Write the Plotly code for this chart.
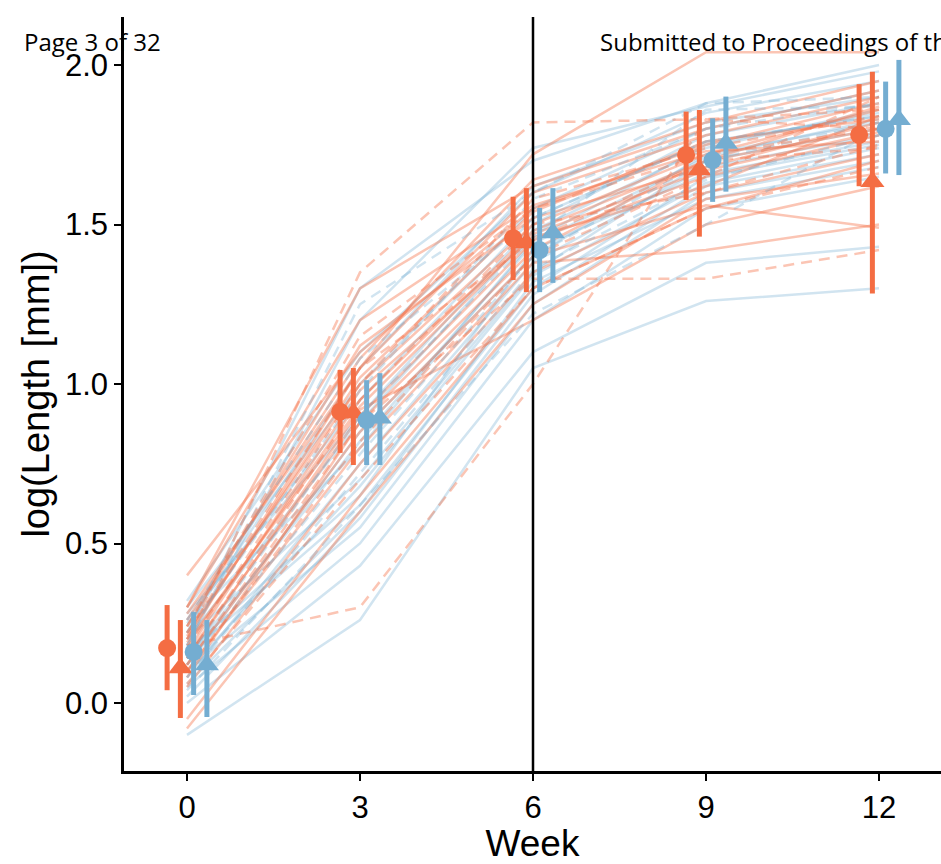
import plotly.graph_objects as go

weeks = [0, 3, 6, 9, 12]

# individual trajectories: values at weeks 0, 3, 6, 9, 12
orange_solid = [
    [0.40, 1.10, 1.55, 1.75, 1.88],
    [0.30, 1.30, 1.62, 1.80, 1.92],
    [0.28, 1.05, 1.72, 2.04, 2.04],
    [0.22, 1.00, 1.50, 1.72, 1.86],
    [0.18, 0.95, 1.48, 1.70, 1.80],
    [0.15, 0.90, 1.45, 1.65, 1.78],
    [0.12, 0.85, 1.40, 1.56, 1.49],
    [0.10, 0.80, 1.38, 1.42, 1.50],
    [0.20, 1.05, 1.60, 1.78, 1.90],
    [0.05, 0.75, 1.35, 1.60, 1.72],
    [-0.05, 0.65, 1.30, 1.55, 1.70],
    [0.24, 1.12, 1.52, 1.68, 1.82],
    [0.16, 0.98, 1.46, 1.62, 1.84],
    [0.30, 1.20, 1.56, 1.73, 1.76],
    [-0.08, 0.60, 1.25, 1.58, 1.66],
    [0.08, 0.88, 1.42, 1.70, 1.87],
    [0.26, 1.08, 1.64, 1.82, 1.95],
    [0.14, 0.92, 1.20, 1.50, 1.62],
    [0.21, 1.02, 1.54, 1.76, 1.83],
    [0.19, 0.93, 1.47, 1.67, 1.79],
]
orange_dashed = [
    [0.18, 0.30, 1.00, 1.83, 1.80],
    [0.12, 0.88, 1.33, 1.33, 1.42],
    [0.20, 1.35, 1.82, 1.83, 1.86],
    [0.22, 1.05, 1.45, 1.70, 1.74],
    [0.14, 0.95, 1.50, 1.60, 1.75],
    [0.24, 1.15, 1.55, 1.72, 1.80],
    [0.06, 0.70, 1.30, 1.55, 1.68],
    [0.10, 0.82, 1.40, 1.65, 1.90],
    [0.17, 1.00, 1.58, 1.74, 1.84],
]
blue_solid = [
    [-0.10, 0.26, 1.05, 1.26, 1.30],
    [0.00, 0.43, 1.10, 1.38, 1.43],
    [0.05, 0.50, 1.20, 1.55, 1.65],
    [0.10, 0.55, 1.25, 1.60, 1.70],
    [0.15, 0.62, 1.30, 1.65, 1.75],
    [0.20, 0.70, 1.35, 1.70, 1.80],
    [0.25, 0.80, 1.45, 1.75, 1.85],
    [0.28, 0.90, 1.50, 1.78, 1.88],
    [0.30, 1.00, 1.55, 1.80, 1.92],
    [0.32, 1.10, 1.60, 1.85, 1.95],
    [0.22, 1.30, 1.70, 1.88, 2.00],
    [0.18, 1.20, 1.74, 1.87, 1.98],
    [0.12, 0.85, 1.40, 1.72, 1.82],
    [0.08, 0.75, 1.38, 1.68, 1.78],
    [0.26, 0.95, 1.52, 1.76, 1.84],
    [0.02, 0.58, 1.28, 1.62, 1.72],
    [0.16, 0.65, 1.42, 1.66, 1.76],
    [0.24, 1.05, 1.62, 1.82, 1.90],
    [0.06, 0.60, 1.32, 1.58, 1.68],
    [0.20, 0.88, 1.48, 1.74, 1.86],
    [0.14, 0.82, 1.44, 1.71, 1.83],
    [0.10, 0.68, 1.34, 1.63, 1.74],
]
blue_dashed = [
    [0.18, 1.25, 1.60, 1.88, 1.90],
    [0.12, 0.78, 1.40, 1.70, 1.82],
    [0.22, 0.98, 1.58, 1.80, 1.88],
    [0.04, 0.62, 1.22, 1.50, 1.80],
    [0.26, 1.08, 1.52, 1.76, 1.84],
    [0.08, 0.72, 1.36, 1.64, 1.78],
    [0.14, 0.90, 1.46, 1.86, 1.87],
]

# group summaries (mean and interval) at each week
oc_mean = [0.172, 0.913, 1.457, 1.718, 1.781]
oc_lo = [0.040, 0.784, 1.326, 1.577, 1.620]
oc_hi = [0.307, 1.044, 1.587, 1.854, 1.940]

ot_mean = [0.110, 0.909, 1.442, 1.671, 1.634]
ot_lo = [-0.047, 0.746, 1.288, 1.462, 1.284]
ot_hi = [0.260, 1.050, 1.614, 1.859, 1.979]

bc_mean = [0.160, 0.887, 1.420, 1.702, 1.800]
bc_lo = [0.025, 0.746, 1.288, 1.571, 1.660]
bc_hi = [0.285, 1.012, 1.552, 1.833, 1.948]

bt_mean = [0.119, 0.893, 1.473, 1.754, 1.828]
bt_lo = [-0.044, 0.746, 1.317, 1.603, 1.655]
bt_hi = [0.260, 1.034, 1.614, 1.901, 2.016]

x_ticks = [0, 3, 6, 9, 12]
y_ticks = [0.0, 0.5, 1.0, 1.5, 2.0]
y_ticktext = ["0.0", "0.5", "1.0", "1.5", "2.0"]

ORANGE = "#F46D43"
BLUE = "#74ADD1"
ORANGE_T = "rgba(244,109,67,0.40)"
BLUE_T = "rgba(116,173,209,0.33)"
DASH = "11px,7px"

fig = go.Figure()

def add_lines(rows, color, dash):
    for r in rows:
        fig.add_trace(go.Scatter(x=weeks, y=r, mode="lines",
                                 line=dict(color=color, width=2.5, dash=dash),
                                 showlegend=False, hoverinfo="skip"))

add_lines(blue_solid, BLUE_T, "solid")
add_lines(orange_solid, ORANGE_T, "solid")
add_lines(blue_dashed, BLUE_T, DASH)
add_lines(orange_dashed, ORANGE_T, DASH)

dodge = [-0.345, -0.115, 0.115, 0.345]
summaries = [
    (oc_mean, oc_lo, oc_hi, ORANGE, "circle", 18),
    (ot_mean, ot_lo, ot_hi, ORANGE, "triangle-up", 21),
    (bc_mean, bc_lo, bc_hi, BLUE, "circle", 18),
    (bt_mean, bt_lo, bt_hi, BLUE, "triangle-up", 21),
]
for (m, lo, hi, col, sym, sz), d in zip(summaries, dodge):
    fig.add_trace(go.Scatter(
        x=[w + d for w in weeks], y=m, mode="markers",
        marker=dict(color=col, symbol=sym, size=sz, line=dict(width=0)),
        error_y=dict(type="data", symmetric=False,
                     array=[h - v for h, v in zip(hi, m)],
                     arrayminus=[v - l for v, l in zip(m, lo)],
                     color=col, thickness=5, width=0),
        showlegend=False))

fig.add_shape(type="line", x0=6, x1=6, y0=0, y1=1, xref="x", yref="paper",
              line=dict(color="black", width=2.5), layer="above")

# plot area spans x 124..941, y 17..771 of the page
PL, PR, PT, PB = 124, 0, 17, 93
W, H = 941, 864
pw, ph = W - PL - PR, H - PT - PB

def px(xpix):
    return (xpix - PL) / pw

def py(ypix):
    return (H - PB - ypix) / ph

head_font = dict(family="Open Sans", size=24, color="black")
fig.add_annotation(text="Page 3 of 32", xref="paper", yref="paper",
                   x=px(22), y=py(42), xanchor="left", yanchor="middle",
                   showarrow=False, font=head_font)
fig.add_annotation(text="Submitted to Proceedings of the National Academy of Sciences",
                   xref="paper", yref="paper",
                   x=px(598), y=py(42), xanchor="left", yanchor="middle",
                   showarrow=False, font=head_font)

fig.update_layout(
    width=W, height=H,
    margin=dict(l=PL, r=PR, t=PT, b=PB, autoexpand=False),
    paper_bgcolor="white", plot_bgcolor="white",
    font=dict(family="Liberation Sans", color="black"),
    xaxis=dict(range=[-1.0925, 13.075], tickvals=x_ticks, ticktext=[str(t) for t in x_ticks],
               automargin=False,
               showgrid=False, zeroline=False, showline=True, linecolor="black", linewidth=2.5,
               ticks="outside", ticklen=7, tickwidth=2, tickcolor="black",
               tickfont=dict(size=31, family="Liberation Sans", color="black"),
               title=dict(text="Week", font=dict(size=37, family="Liberation Sans"), standoff=14)),
    yaxis=dict(range=[-0.2132, 2.1505], tickvals=y_ticks, ticktext=y_ticktext,
               automargin=False,
               showgrid=False, zeroline=False, showline=True, linecolor="black", linewidth=2.5,
               ticks="outside", ticklen=7, tickwidth=2, tickcolor="black",
               tickfont=dict(size=31, family="Liberation Sans", color="black"),
               title=dict(text="log(Length [mm])", font=dict(size=38, family="Liberation Sans"), standoff=4)),
)

fig.write_html("out.html", config={"displayModeBar": False},
               post_script="document.body.style.margin='0';"
                           "document.documentElement.style.overflow='hidden';")
